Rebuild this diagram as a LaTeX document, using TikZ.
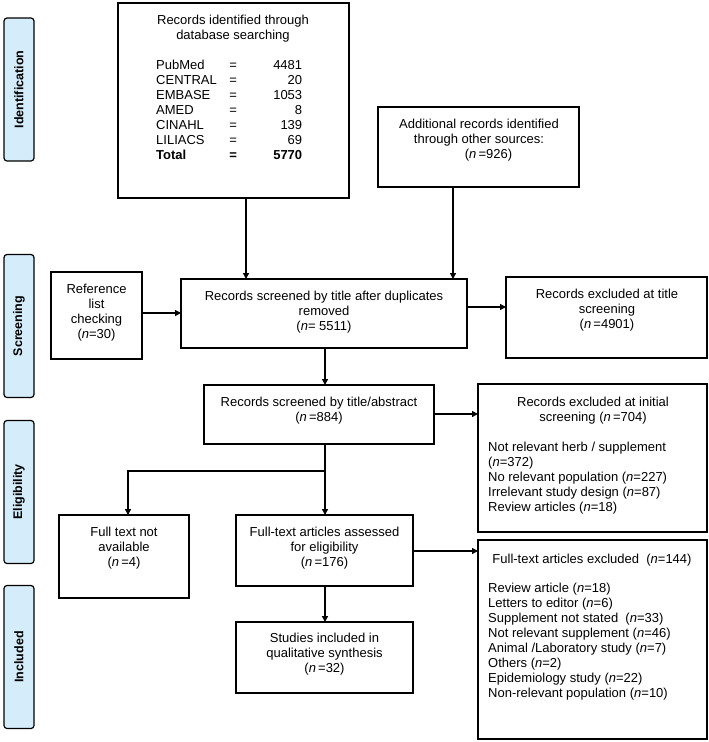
\documentclass[tikz,border=0pt]{standalone}
\usepackage{fontspec}
\setmainfont{Liberation Sans}
\usetikzlibrary{arrows.meta}
\definecolor{sidefill}{HTML}{D5EDFB}
\tikzset{
  bx/.style={draw, line width=1.3pt, inner sep=0pt, outer sep=0pt, anchor=north west},
  side/.style={draw, line width=1.2pt, fill=sidefill, rounded corners=3pt, rotate=90,
    minimum width=143pt, minimum height=30pt, inner sep=0pt, font=\fontsize{12.5}{14}\selectfont\bfseries},
  txt/.style={inner sep=0pt, anchor=north, align=center, font=\fontsize{13}{15}\selectfont, execute at begin node=\strut},
  ltxt/.style={inner sep=0pt, anchor=north west, align=left, font=\fontsize{13}{15}\selectfont, execute at begin node=\strut},
  arr/.style={line width=1.3pt, -{Triangle[length=6pt,width=6pt]}},
  ln/.style={line width=1.3pt}
}
\newcommand{\nn}{\textit{n}}
\newcommand{\dbrow}[3]{\makebox[65pt][l]{#1}\makebox[24pt]{=}\makebox[57pt][r]{#3}}
\begin{document}
\begin{tikzpicture}[x=1pt,y=-1pt]
\useasboundingbox (0,0) rectangle (709,742);
% side labels
\node[side] (sid) at (19,89.5) {Identification};
\node[side] (sscr) at (19,326) {Screening};
\node[side] (selig) at (19,492) {Eligibility};
\node[side] (sinc) at (19,657) {Included};
% boxes
\node[bx, minimum width=231pt, minimum height=195pt] (db) at (118,3) {};
\node[bx, minimum width=201pt, minimum height=80pt] (add) at (378,107) {};
\node[bx, minimum width=91pt, minimum height=87pt] (ref) at (51,272) {};
\node[bx, minimum width=286pt, minimum height=69pt] (scr) at (181,279) {};
\node[bx, minimum width=201pt, minimum height=81pt] (ext) at (506,277) {};
\node[bx, minimum width=230pt, minimum height=59pt] (ta) at (204,385) {};
\node[bx, minimum width=229pt, minimum height=148pt] (exi) at (478,384) {};
\node[bx, minimum width=130pt, minimum height=83pt] (fna) at (59,515) {};
\node[bx, minimum width=177pt, minimum height=71pt] (fta) at (236,515) {};
\node[bx, minimum width=229pt, minimum height=199pt] (ftx) at (478,540) {};
\node[bx, minimum width=177pt, minimum height=71pt] (si) at (236,622) {};
% texts
\node[txt] (dbT) at (233,15.2) {Records identified through\\database searching};
\node[ltxt] (dbL) at (156,60.2) {\dbrow{PubMed}{=}{4481}\\\dbrow{CENTRAL}{=}{20}\\\dbrow{EMBASE}{=}{1053}\\\dbrow{AMED}{=}{8}\\\dbrow{CINAHL}{=}{139}\\\dbrow{LILIACS}{=}{69}\\\bfseries\dbrow{Total}{=}{5770}};
\node[txt] (addT) at (479,119.2) {Additional records identified\\through other sources:\\\hspace*{19pt}(\nn\,=926)};
\node[txt] (refT) at (96.5,284.2) {Reference\\list\\checking\\(\nn=30)};
\node[txt] (scrT) at (324,291.2) {Records screened by title after duplicates\\removed\\(\nn= 5511)};
\node[txt] (extT) at (607,289.2) {Records excluded at title\\screening\\(\nn\,=4901)};
\node[txt] (taT) at (319,397.2) {Records screened by title/abstract\\(\nn\,=884)};
\node[txt] (exiT) at (593,397.2) {Records excluded at initial\\screening (\nn\,=704)};
\node[ltxt] (exiL) at (488,442.2) {Not relevant herb / supplement\\(\nn=372)\\No relevant population (\nn=227)\\Irrelevant study design (\nn=87)\\Review articles (\nn=18)};
\node[txt] (fnaT) at (124,527.2) {Full text not\\available\\(\nn\,=4)};
\node[txt] (ftaT) at (324.5,527.2) {Full-text articles assessed\\for eligibility\\(\nn\,=176)};
\node[txt] (siT) at (324.5,633.2) {Studies included in\\qualitative synthesis\\(\nn\,=32)};
\node[txt] (ftxT) at (592,553.2) {Full-text articles excluded\ \ (\nn=144)};
\node[ltxt] (ftxL) at (488,583.2) {Review article (\nn=18)\\Letters to editor (\nn=6)\\Supplement not stated\ \ (\nn=33)\\Not relevant supplement (\nn=46)\\Animal /Laboratory study (\nn=7)\\Others (\nn=2)\\Epidemiology study (\nn=22)\\Non-relevant population (\nn=10)};
% connectors
\draw[arr] (db.south -| 246,0) -- (scr.north -| 246,0);
\draw[arr] (add.south -| 453,0) -- (scr.north -| 453,0);
\draw[arr] (ref.east |- 0,313) -- (scr.west |- 0,313);
\draw[arr] (scr.east |- 0,307) -- (ext.west |- 0,307);
\draw[arr] (scr.south -| 325,0) -- (ta.north -| 325,0);
\draw[arr] (ta.east |- 0,414) -- (exi.west |- 0,414);
\coordinate (j) at (325,471);
\draw[ln] (ta.south -| j) -- (j);
\draw[arr] (j) -| (fna.north -| 128,0);
\draw[arr] (j) -- (fta.north -| j);
\draw[arr] (fta.east |- 0,551) -- (ftx.west |- 0,551);
\draw[arr] (fta.south -| 325,0) -- (si.north -| 325,0);
\end{tikzpicture}
\end{document}
